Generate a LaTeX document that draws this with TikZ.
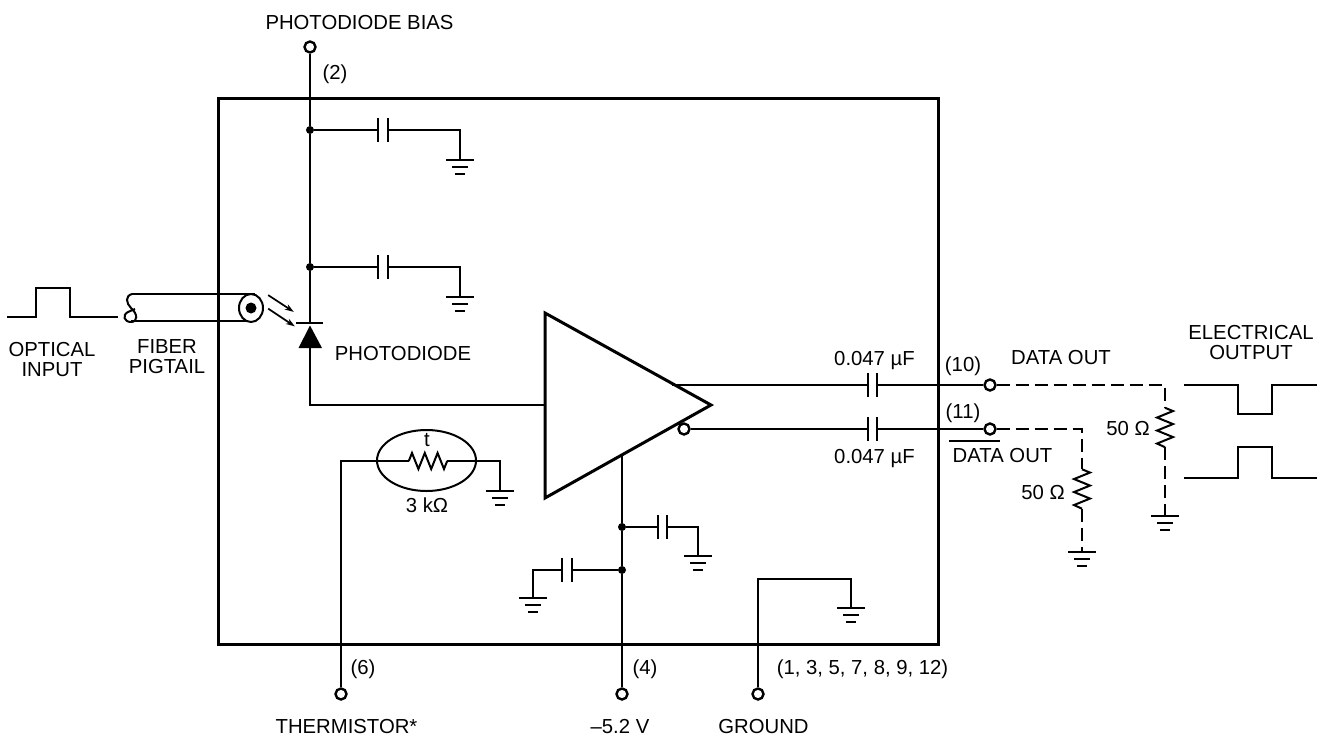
\documentclass[tikz,border=0pt]{standalone}
\usepackage{fontspec}
\setmainfont{Liberation Sans}
\usetikzlibrary{arrows.meta,shapes.geometric}
\tikzset{
  wire/.style={line width=2pt,line join=miter},
  dashwire/.style={line width=2pt,dash pattern=on 13pt off 6pt},
  term/.style={circle,draw,line width=2.4pt,fill=white,minimum size=11pt,inner sep=0pt},
  junc/.style={circle,fill=black,minimum size=8pt,inner sep=0pt},
  pt/.style={inner sep=0pt,minimum size=0pt},
  capv/.style={inner sep=0pt,minimum width=9pt,minimum height=23pt,
    append after command={(\tikzlastnode.north west) edge (\tikzlastnode.south west)
      (\tikzlastnode.north east) edge (\tikzlastnode.south east)}},
  gnd/.style={inner sep=0pt,minimum width=27pt,minimum height=14pt,anchor=north,
    append after command={(\tikzlastnode.north west) edge (\tikzlastnode.north east)
      ([xshift=6pt,yshift=-6.5pt]\tikzlastnode.north west) edge ([xshift=-6pt,yshift=-6.5pt]\tikzlastnode.north east)
      ([xshift=9pt,yshift=-13.5pt]\tikzlastnode.north west) edge ([xshift=-9pt,yshift=-13.5pt]\tikzlastnode.north east)}},
  lbl/.style={inner sep=0pt,anchor=base,yshift=-0.7pt,font=\fontsize{20.3}{20}\selectfont},
  lblc/.style={inner sep=0pt,align=center,font=\fontsize{20.3}{20}\selectfont},
  every edge/.append style={line width=2pt,draw},
}
% zigzag resistors
\newcommand{\zigV}[1]{\draw[wire] (#1.north) -- ++(8,3.25) -- ++(-16,6.5) -- ++(16,6.5) -- ++(-16,6.5) -- ++(16,6.5) -- ++(-16,6.5) -- (#1.south);}
\newcommand{\zigH}[1]{\draw[wire] (#1.west) -- ++(3.2,-8) -- ++(6.4,16) -- ++(6.4,-16) -- ++(6.4,16) -- ++(6.4,-16) -- ++(6.4,16) -- (#1.east);}
\begin{document}
\begin{tikzpicture}[x=1pt,y=-1pt]
\useasboundingbox (0,0) rectangle (1317,737);
\fill[white] (0,0) rectangle (1317,737);

% fiber (drawn under the package outline)
\node[pt] (fibT) at (132,294) {};
\node[pt] (fibB) at (131,321) {};
\node[pt] (fibTR) at (255,294) {};
\node[pt] (fibBR) at (255,321) {};
\draw[wire] (fibT) -- (fibTR);
\draw[wire] (fibB) -- (fibBR);
\draw[wire] (fibT.center) .. controls (125,296) and (126,303) .. (131,308) .. controls (138,314) and (138,322) .. (131,322) .. controls (124,322) and (122,315) .. (128,312) -- (135,309);

% package
\node[draw,line width=3pt,inner sep=0pt,minimum width=720pt,minimum height=546pt] (pkg) at (578,371) {};

% fiber end
\node[draw,ellipse,line width=2pt,fill=white,minimum width=24pt,minimum height=28pt,inner sep=0pt] (fibE) at (251,308) {};
\node[circle,fill=black,minimum size=11pt,inner sep=0pt] (core) at (251,308) {};

% input pulse
\node[pt] (pi0) at (7,317) {};
\node[pt] (pi1) at (118,317) {};
\draw[wire] (pi0) -- (36,317) -- (36,288) -- (70,288) -- (70,317) -- (pi1);

% photodiode
\node[term] (tBias) at (310,47) {};
\node[junc] (j1) at (310,130) {};
\node[junc] (j2) at (310,267) {};
\node[pt] (dK) at (310,323) {};
\node[pt] (dKl) at (296,323) {};
\node[pt] (dKr) at (323,323) {};
\node[pt] (dA) at (310,348) {};
\draw[wire] (tBias) -- (j1) -- (j2) -- (dK);
\draw[wire] (dKl) -- (dKr);
\fill (310,325.5) -- (322,348) -- (298.5,348) -- cycle;
\node[pt] (ray1a) at (268,295) {};
\node[pt] (ray1b) at (294,312) {};
\node[pt] (ray2a) at (268,308.5) {};
\node[pt] (ray2b) at (295,326.5) {};
\draw[line width=1.7pt,-{Stealth[length=9pt,width=6pt]}] (ray1a) -- (ray1b);
\draw[line width=1.7pt,-{Stealth[length=9pt,width=6pt]}] (ray2a) -- (ray2b);

% amplifier
\node[pt] (aIn) at (545,405) {};
\draw[line width=3pt,line join=miter] (545,313) -- (711,405) -- (545,498) -- cycle;
\draw[wire] (dA) |- (aIn);

% bias capacitors
\node[capv] (c1) at (383,130) {};
\node[gnd] (g1) at (460,160) {};
\draw[wire] (j1) -- (c1.west);
\draw[wire] (c1.east) -| (g1.north);
\node[capv] (c2) at (383,267) {};
\node[gnd] (g2) at (460,297) {};
\draw[wire] (j2) -- (c2.west);
\draw[wire] (c2.east) -| (g2.north);

% outputs
\node[pt] (aOut) at (672,385) {};
\node[capv] (c3) at (872.5,385) {};
\node[term] (tOut) at (990,385) {};
\draw[wire] (aOut) -- (c3.west);
\draw[wire] (c3.east) -- (tOut);
\node[term] (bub) at (684,429) {};
\node[capv] (c4) at (872.5,429) {};
\node[term] (tOutB) at (990,429) {};
\draw[wire] (bub) -- (c4.west);
\draw[wire] (c4.east) -- (tOutB);

% external loads
\node[pt,minimum height=39pt] (r1) at (1165,427.5) {};
\node[gnd] (g3) at (1165,516) {};
\draw[dashwire] (tOut) -| (r1.north);
\draw[dashwire] (r1.south) -- (g3.north);
\zigV{r1}
\node[pt,minimum height=39pt] (r2) at (1082,489) {};
\node[gnd] (g4) at (1082,552) {};
\draw[dashwire] (tOutB) -| (r2.north);
\draw[dashwire] (r2.south) -- (g4.north);
\zigV{r2}

% output pulses
\node[pt] (po0) at (1184,385) {};
\node[pt] (po1) at (1317,385) {};
\draw[wire] (po0) -- (1238,385) -- (1238,414) -- (1272,414) -- (1272,385) -- (po1);
\node[pt] (pq0) at (1184,478) {};
\node[pt] (pq1) at (1317,478) {};
\draw[wire] (pq0) -- (1238,478) -- (1238,447) -- (1272,447) -- (1272,478) -- (pq1);

% thermistor
\node[draw,ellipse,line width=2pt,minimum width=99pt,minimum height=61pt,inner sep=0pt] (thE) at (426.5,460.5) {};
\node[pt,minimum width=38pt] (rt) at (428,461) {};
\node[term] (tTh) at (341,694) {};
\node[gnd] (g5) at (500,491) {};
\draw[wire] (tTh) |- (rt.west);
\draw[wire] (rt.east) -| (g5.north);
\zigH{rt}

% supply
\node[pt] (aV) at (622,455) {};
\node[junc] (j3) at (622,527) {};
\node[junc] (j4) at (622,570) {};
\node[term] (tV) at (622,694) {};
\draw[wire] (aV) -- (j3) -- (j4) -- (tV);
\node[capv] (c5) at (662.5,527) {};
\node[gnd] (g6) at (698,556) {};
\draw[wire] (j3) -- (c5.west);
\draw[wire] (c5.east) -| (g6.north);
\node[capv] (c6) at (567,570) {};
\node[gnd] (g7) at (533,598) {};
\draw[wire] (j4) -- (c6.east);
\draw[wire] (c6.west) -| (g7.north);

% ground
\node[term] (tG) at (758,694) {};
\node[gnd] (g8) at (851,608) {};
\draw[wire] (tG) |- (851,579) -- (g8.north);

% labels
\node[lbl] (lBias) at (359.5,28.5) {PHOTODIODE BIAS};
\node[lbl] (l2) at (335,78.5) {(2)};
\node[lblc] (lOpt) at (52,360) {OPTICAL\\INPUT};
\node[lblc] (lFib) at (167,357) {FIBER\\PIGTAIL};
\node[lbl] (lPd) at (403,359.5) {PHOTODIODE};
\node[lbl] (lt) at (427,446) {t};
\node[lbl] (l3k) at (427,511.5) {3 kΩ};
\node[lbl] (l6) at (363,673.5) {(6)};
\node[lbl] (l4) at (645,673.5) {(4)};
\node[lbl] (lPins) at (862.5,673.5) {(1, 3, 5, 7, 8, 9, 12)};
\node[lbl] (lTh) at (346.5,732.5) {THERMISTOR*};
\node[lbl] (lV) at (620,732.5) {–5.2 V};
\node[lbl] (lGnd) at (763.5,732.5) {GROUND};
\node[lbl] (lC1) at (874.5,364.5) {0.047 µF};
\node[lbl] (lC2) at (874.5,462.5) {0.047 µF};
\node[lbl] (l10) at (963,370.5) {(10)};
\node[lbl] (l11) at (963,417.5) {(11)};
\node[lbl] (lDO) at (1061,363.5) {DATA OUT};
\node[lbl] (lDOb) at (1002.5,461.5) {DATA OUT};
\node[pt] (barA) at (949,441) {};
\node[pt] (barB) at (1000,441) {};
\draw[wire] (barA) -- (barB);
\node[lblc] (lEl) at (1251,343) {ELECTRICAL\\OUTPUT};
\node[lbl] (lR1) at (1128,434.5) {50 Ω};
\node[lbl] (lR2) at (1043,498.5) {50 Ω};
\end{tikzpicture}
\end{document}
